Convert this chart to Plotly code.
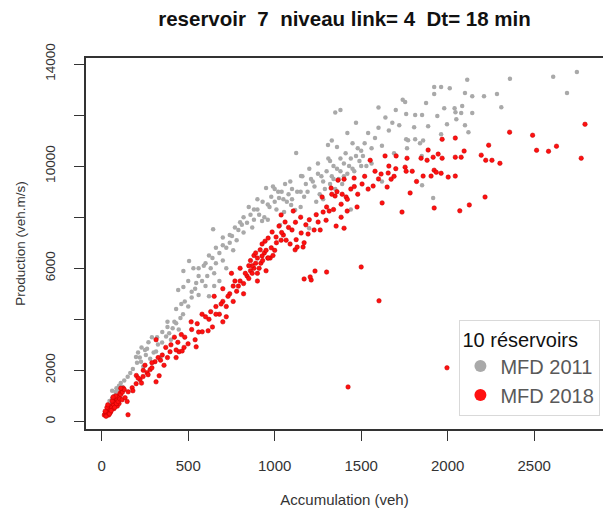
import plotly.graph_objects as go

# ---------------- data ----------------
grey_x = [20, 30, 40, 50, 60, 70, 80, 90, 100, 110, 60, 45, 120, 130, 85,
          150, 165, 180, 198, 204, 227, 240, 255, 262, 280, 300, 314, 325, 337, 349, 372, 390, 400, 410, 430, 445,
          210, 230, 270, 290, 350, 380, 420, 455, 470,
          472, 505, 520, 540, 442, 472, 546, 480, 500, 520, 560, 580, 600, 610, 630, 650, 640, 660, 680, 700, 720,
          740, 700, 760, 780, 644, 753, 790, 560, 590, 500, 530, 620, 680, 720, 650,
          800, 820, 840, 860, 880, 900, 927, 950, 960, 980, 1000, 1025, 1031, 1040, 1054, 1060, 1080, 1095, 1100,
          1118, 1124, 1152, 850, 900, 940, 990, 870, 820, 1010, 1070,
          1150, 1170, 1180, 1199, 1210, 1230, 1250, 1260, 1280, 1300, 1308, 1320, 1330, 1340, 1350, 1360, 1370,
          1380, 1390, 1400, 1420, 1440, 1450, 1470, 1490, 1500, 1350, 1380, 1330, 1420, 1450, 1200, 1240, 1280,
          1150, 1310, 1470, 1500, 1440,
          1520, 1540, 1560, 1580, 1600, 1620, 1640, 1660, 1680, 1700, 1720, 1740, 1754, 1760, 1760, 1765, 1771,
          1806, 1812, 1812, 1840, 1852, 1858, 1875, 1887, 1922, 1922, 1940, 1962, 1962, 1980, 1996, 2012, 2040,
          2045, 2050, 2078, 2084, 2100, 2100, 2113, 2120, 2142, 2142, 2210, 2285, 2310, 2360, 2610, 2690, 2747,
          1852, 1916, 1620, 1560, 1690, 1600, 1850,
          880, 910, 930, 970, 1020, 1050, 1090, 1130, 1160, 1190, 1220, 1250, 1270, 1290, 1320, 1340, 1360, 1380,
          1400, 1410, 1430, 1460, 1480, 1510, 1530, 600, 620, 660, 700, 740, 770, 810, 560, 430, 460, 380, 320,
          250, 220, 1100, 1000, 960]
grey_y = [300, 450, 600, 700, 900, 1000, 1150, 1250, 1400, 1500, 1200, 800, 1350, 1600, 1300,
          1750, 1900, 2050, 2520, 2300, 2340, 2150, 2600, 2850, 2450, 2700, 2740, 3010, 2500, 3090, 3330, 3450, 3200, 3650, 3850, 3600,
          2700, 2900, 3100, 3300, 3500, 3700, 3900, 4050, 4200,
          5890, 6280, 5080, 5200, 5150, 5270, 5420, 4700, 4500, 4850, 4950, 5500, 5300, 5700, 6000, 5800, 6400, 6200, 6600, 6300, 6800,
          7000, 7200, 6700, 7100, 7530, 7260, 7500, 5700, 6100, 5500, 6000, 4900, 5500, 6000, 5300,
          7800, 7400, 7780, 8100, 7900, 8300, 7850, 9140, 8500, 8800, 8600, 8750, 7690, 9000, 8200, 9300, 8900, 8480, 9100,
          8280, 10510, 9610, 8400, 8700, 8000, 9200, 7600, 8000, 8300, 8600,
          9000, 8800, 9300, 7570, 9500, 9200, 9700, 8900, 9400, 9800, 10830, 9300, 9600, 10000, 9100, 10750, 9500,
          9800, 9300, 10100, 9700, 10300, 9900, 10400, 10200, 10600, 12100, 12200, 11000, 11300, 10900, 9900, 8600, 8700,
          8400, 10300, 11700, 10000, 8300,
          10900, 11300, 10700, 11100, 11500, 10800, 11900, 11400, 11700, 12200, 11600, 12600, 12510, 12040, 11050, 10700, 11010,
          11520, 11050, 12000, 10900, 12000, 11000, 12470, 11560, 13100, 12820, 11960, 13100, 11250, 12270, 11640, 13050, 12270,
          12110, 11840, 12080, 12350, 12860, 11600, 13380, 11330, 12740, 12080, 12740, 12820, 12310, 13420, 13500, 12860, 13690,
          9250, 8750, 9400, 10100, 10500, 12300, 10400,
          8300, 8100, 8600, 8400, 9000, 8700, 9400, 9000, 9600, 9000, 9400, 10100, 9600, 9100, 10200, 9500, 9900, 10300,
          9600, 10500, 10000, 9800, 10700, 10400, 10000, 6200, 6500, 6800, 6900, 7300, 7600, 7700, 6000, 4400, 4600, 3900, 3300,
          2800, 2500, 8700, 9100, 7900]

red_x = [15, 20, 25, 30, 35, 40, 45, 50, 55, 60, 65, 70, 75, 80, 85, 90, 95, 100, 105, 110, 115, 120, 125, 130,
         20, 30, 40, 50, 60, 70, 80, 90, 100, 110, 25, 35, 45, 55, 65, 75, 85, 95, 105, 118, 135, 147, 153, 152,
         176, 199, 221, 239, 262, 280, 308, 326, 314, 395, 430, 447, 465, 476, 499, 540, 546, 430, 314, 332, 268,
         200, 230, 250, 290, 350, 370, 400, 360, 420, 460, 180, 240,
         517, 552, 581, 615, 640, 600, 630, 660, 680, 700, 720, 650, 740, 760, 700, 780, 800, 820, 840, 860, 880,
         900, 860, 880, 900, 920, 940, 960, 974, 916, 927, 962, 944, 962, 985, 1008, 1037, 1066, 1089, 1118, 1130,
         1164, 927, 870, 890, 850, 820, 760, 720, 580, 560, 900, 700, 750, 800, 950, 1000, 980,
         1025, 1037, 1060, 1107, 1124, 1153, 1193, 1228, 1263, 1251, 1297, 1315, 1355, 1401, 1384, 1419, 1476, 1384,
         1413, 1349, 1274, 1326, 1366, 1401, 1459, 1505, 1569, 1621, 1650, 1673, 1615, 1656, 1552, 1638, 1702, 1100,
         1050, 1200, 1330, 1360, 1390, 1440, 1480, 1520, 1300, 1170,
         1170, 1211, 1205, 1233, 1300, 1500, 1603, 1424, 1996,
         1736, 1783, 1754, 1760, 1765, 1795, 1846, 1858, 1881, 1887, 1904, 1916, 1922, 1934, 1945, 1962, 1968, 1968,
         2003, 2044, 2044, 2044, 2078, 2095, 2194, 2220, 2237, 2256, 2302, 2358, 2491, 2514, 2583, 2629, 2772, 2794,
         1922, 2070, 2125, 2216, 1820, 1700, 1660,
         620, 660, 690, 730, 770, 790, 830, 850, 870, 890, 910, 930, 950, 990, 1010, 1040, 1080, 1120, 1150, 1180,
         1240, 1280, 1340, 1420, 1460, 1540, 1580, 1600, 1690, 480, 520, 440, 380, 340, 290, 210]
red_y = [250, 300, 350, 280, 420, 380, 500, 450, 600, 550, 700, 650, 800, 750, 900, 850, 1000, 950, 1100, 1050, 1200, 1150, 1300, 1250,
         400, 550, 250, 350, 800, 500, 1000, 600, 700, 1300, 200, 650, 300, 420, 950, 550, 700, 780, 880, 850, 930, 780, 1160, 260,
         1320, 1480, 1640, 1760, 1910, 2030, 2340, 2500, 3200, 2730, 2500, 2730, 2760, 2900, 3040, 3200, 2920, 2800, 1550, 1790, 1830,
         1800, 1500, 2200, 2300, 2600, 2900, 3000, 2200, 3300, 3400, 1200, 2000,
         3900, 3830, 3510, 3550, 3700, 4100, 4300, 4500, 4200, 4700, 4500, 4900, 5000, 5300, 5200, 5100, 5500, 5400, 5700, 5900, 6000,
         5800, 6300, 6500, 6400, 6200, 6600, 6400, 6400, 6720, 6480, 6400, 7060, 7180, 7420, 7220, 7100, 7100, 6950, 6720, 6830,
         6830, 6950, 6100, 6200, 5600, 5000, 4700, 4100, 4200, 3500, 5500, 3900, 5800, 6000, 5900, 6700, 6800,
         7650, 8090, 7810, 8240, 7120, 7380, 7340, 7500, 7500, 7810, 7880, 8240, 7650, 7570, 8000, 8240, 8400, 8510,
         8790, 8830, 8790, 9140, 9450, 9490, 9530, 9300, 9220, 8560, 9180, 9490, 9690, 9730, 10230, 10400, 10400, 7500,
         7300, 7900, 8900, 9000, 8900, 9100, 8900, 9600, 8400, 7000,
         5580, 5540, 5660, 5890, 5850, 6050, 4724, 1350, 2100,
         8200, 8950, 9960, 9800, 10310, 9800, 10310, 9610, 10230, 10630, 9610, 10350, 9840, 9760, 10470, 9720, 11050, 10310,
         9570, 11100, 10350, 9610, 10350, 10590, 10430, 10230, 10820, 10230, 10110, 11330, 11210, 10620, 10580, 10780, 10310, 11640,
         8360, 8250, 8480, 8790, 9400, 9900, 10000,
         4000, 4200, 4600, 4900, 5500, 5300, 5800, 6100, 5800, 6600, 6000, 6300, 6700, 6500, 7000, 7400, 7600, 7800, 8000, 7700,
         8100, 8200, 8300, 8700, 9200, 9100, 9800, 9500, 9600, 3300, 3600, 3100, 2500, 2400, 2100, 1700]

series_names = ["MFD 2011", "MFD 2018"]
legend_title = "10 réservoirs"
x_ticks = [0, 500, 1000, 1500, 2000, 2500]
y_ticks = [0, 2000, 4000, 6000, 8000, 10000, 12000, 14000]
y_ticklabels = ["0", "2000", "", "6000", "", "10000", "", "14000"]

GREY = "#a9a9a9"
RED = "#ff1010"
FONT = "Liberation Sans, Arial, sans-serif"

fig = go.Figure()
fig.add_trace(go.Scatter(x=grey_x, y=grey_y, mode="markers", name=series_names[0], showlegend=False,
                         marker=dict(color=GREY, size=4.5, line=dict(width=0))))
fig.add_trace(go.Scatter(x=red_x, y=red_y, mode="markers", name=series_names[1], showlegend=False,
                         marker=dict(color=RED, size=4.5, line=dict(width=0.5, color="#c00000"))))
# legend entries
fig.add_trace(go.Scatter(x=[None], y=[None], mode="markers", name=series_names[0],
                         marker=dict(color=GREY, size=12)))
fig.add_trace(go.Scatter(x=[None], y=[None], mode="markers", name=series_names[1],
                         marker=dict(color=RED, size=12)))

fig.update_layout(
    width=603, height=517,
    margin=dict(l=86, r=0, t=58, b=88, autoexpand=False),
    paper_bgcolor="white", plot_bgcolor="white",
    title=dict(text="reservoir\u00a0\u00a07\u00a0\u00a0niveau link=\u00a04\u00a0\u00a0Dt=\u00a018 min",
               x=0.5, xref="paper", xanchor="center", y=1 - 19 / 517, yanchor="middle",
               font=dict(family=FONT, size=20.5, color="#111111", weight="bold")),
    xaxis=dict(range=[-91, 2898], tickvals=x_ticks, ticks="outside", ticklen=10, tickwidth=1.2,
               tickcolor="#333333", showline=True, linecolor="#333333", linewidth=1.5, mirror=True,
               showgrid=False, zeroline=False, automargin=False,
               tickfont=dict(family=FONT, size=15, color="#333333"), ticklabelstandoff=12,
               title=dict(text="Accumulation (veh)", font=dict(family=FONT, size=15, color="#333333"), standoff=22)),
    yaxis=dict(range=[-297, 14235], tickvals=y_ticks, ticktext=y_ticklabels, ticks="outside", ticklen=10,
               tickwidth=1.2, tickcolor="#333333", showline=True, linecolor="#333333", linewidth=1.5,
               mirror=False, showgrid=False, zeroline=False, automargin=False,
               tickfont=dict(family=FONT, size=13.5, color="#333333"), tickangle=-90,
               ticklabelstandoff=14,
               title=dict(text="Production (veh.m/s)", font=dict(family=FONT, size=13.5, color="#333333"), standoff=14)),
    legend=dict(x=0.995, xanchor="right", y=0.295, yanchor="top",
                bgcolor="white", bordercolor="#d9d9d9", borderwidth=1,
                title=dict(text=legend_title, font=dict(family=FONT, size=20, color="#111111")),
                font=dict(family=FONT, size=20, color="#595959"),
                itemsizing="constant", itemwidth=30, tracegroupgap=0),
)
fig.write_html("out.html", config={"displayModeBar": False},
               post_script="document.body.style.margin='0px';")
